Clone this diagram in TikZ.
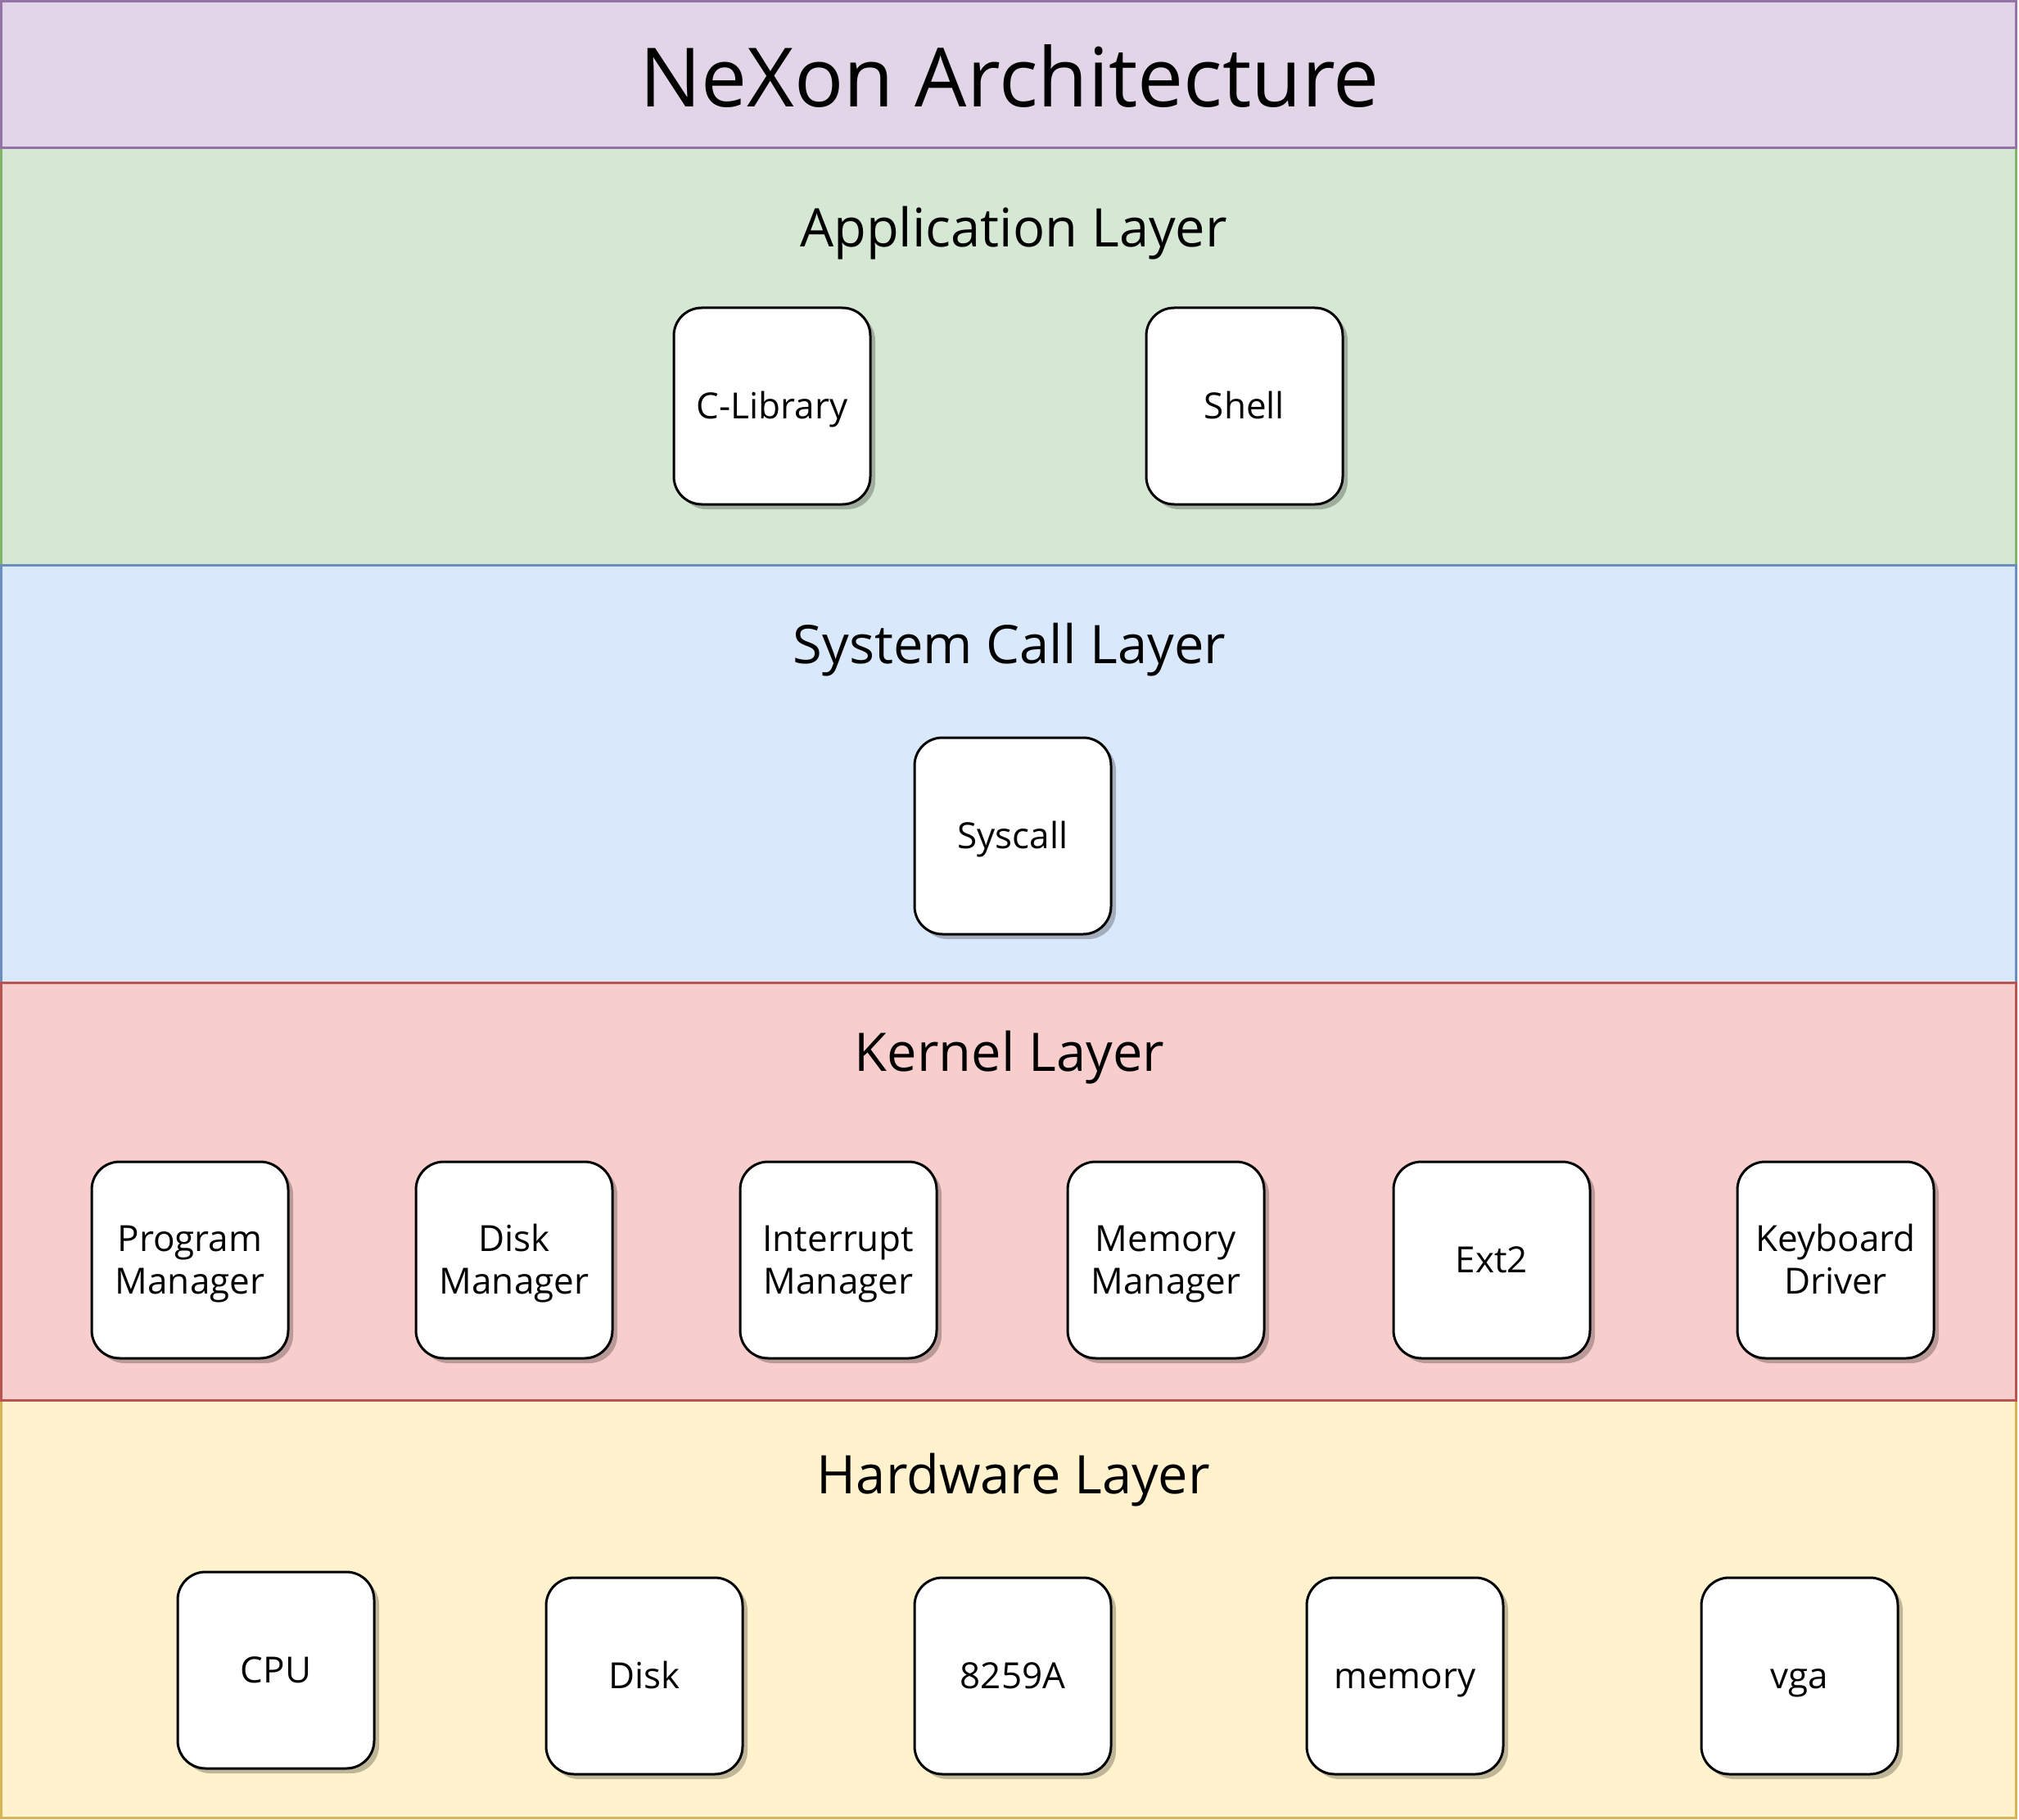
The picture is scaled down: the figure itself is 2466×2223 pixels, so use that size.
\documentclass[tikz,border=0pt]{standalone}
\usepackage{fontspec}
\setmainfont{Open Sans}
\usetikzlibrary{shadows}
\definecolor{tfill}{HTML}{E1D5E7}\definecolor{tline}{HTML}{9673A6}
\definecolor{gfill}{HTML}{D5E8D4}\definecolor{gline}{HTML}{82B366}
\definecolor{bfill}{HTML}{DAE8FC}\definecolor{bline}{HTML}{6C8EBF}
\definecolor{rfill}{HTML}{F8CECC}\definecolor{rline}{HTML}{B85450}
\definecolor{yfill}{HTML}{FFF2CC}\definecolor{yline}{HTML}{D6B656}
\newcommand\bxs{\rule[-10.6pt]{0pt}{52pt}}
\begin{document}
\begin{tikzpicture}[x=1pt,y=-1pt,
  band/.style={line width=3pt},
  box/.style={draw=black, fill=white, line width=3pt, rounded corners=34pt,
    minimum width=240pt, minimum height=240pt, inner sep=0pt, align=center,
    font=\fontsize{44}{52}\selectfont,
    drop shadow={shadow xshift=6pt, shadow yshift=-6pt, opacity=0.25, fill=black}},
  layertitle/.style={anchor=base, font=\fontsize{65}{76}\selectfont},
  maintitle/.style={anchor=base, font=\fontsize{100}{110}\selectfont}]
\useasboundingbox (0,0) rectangle (2466,2223);
% bands
\draw[band, fill=gfill, draw=gline] (1.5,181) rectangle (2462,690);
\draw[band, fill=bfill, draw=bline] (1.5,690) rectangle (2462,1200);
\draw[band, fill=yfill, draw=yline] (1.5,1710) rectangle (2462,2220);
\draw[band, fill=rfill, draw=rline] (1.5,1200) rectangle (2462,1710);
\draw[band, fill=tfill, draw=tline] (1.5,1.5) rectangle (2462,181);
% titles
\node[maintitle] (title) at (1233,131) {NeXon Architecture};
\node[layertitle] (applbl) at (1238,302) {Application Layer};
\node[layertitle] (syslbl) at (1233,810) {System Call Layer};
\node[layertitle] (kerlbl) at (1233,1308) {Kernel Layer};
\node[layertitle] (hwlbl) at (1238,1824) {Hardware Layer};
% application
\node[box] (clib) at (943,496) {\bxs C-Library};
\node[box] (shell) at (1520,496) {\bxs Shell};
% syscall
\node[box] (syscall) at (1237,1021) {\bxs Syscall};
% kernel
\node[box] (pm) at (232,1539) {\bxs Program\\\bxs Manager};
\node[box] (dm) at (628,1539) {\bxs Disk\\\bxs Manager};
\node[box] (im) at (1024,1539) {\bxs Interrupt\\\bxs Manager};
\node[box] (mm) at (1424,1539) {\bxs Memory\\\bxs Manager};
\node[box] (ext) at (1822,1539) {\bxs Ext2};
\node[box] (kd) at (2242,1539) {\bxs Keyboard\\\bxs Driver};
% hardware
\node[box] (cpu) at (337,2040) {\bxs CPU};
\node[box] (disk) at (787,2047) {\bxs Disk};
\node[box] (pic) at (1237,2047) {\bxs 8259A};
\node[box] (mem) at (1716,2047) {\bxs memory};
\node[box] (vga) at (2198,2047) {\bxs vga};
\end{tikzpicture}
\end{document}
